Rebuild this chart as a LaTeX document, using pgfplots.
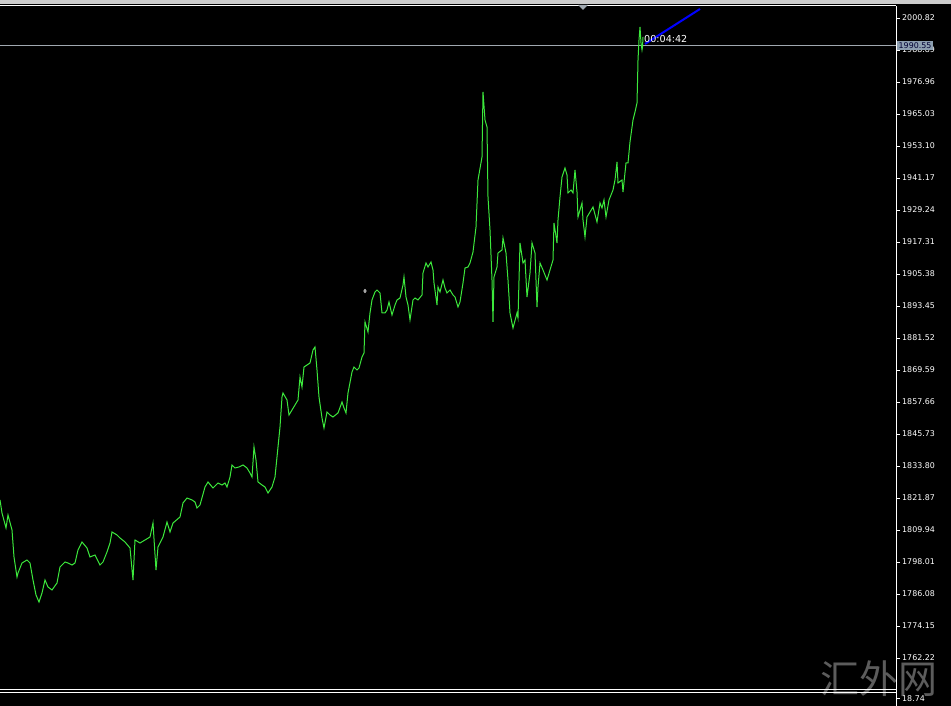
\documentclass[border=0pt]{standalone}
\usepackage{fontspec}
\setmainfont{DejaVu Sans}
\newfontfamily\cjk{Noto Sans CJK SC}
\usepackage{pgfplots}
\pgfplotsset{compat=1.18}
\usetikzlibrary{backgrounds}
\definecolor{mtgreen}{RGB}{60,232,60}
\definecolor{pricebox}{RGB}{140,158,176}
\definecolor{gridgray}{RGB}{160,168,176}
\definecolor{wmark}{RGB}{92,92,92}

% close prices, bar index vs price
\pgfplotstableread{
x y
0 1821.13
2 1816.28
6 1810.69
8 1815.53
12 1809.94
14 1799.88
17 1792.42
18 1793.91
22 1797.64
27 1798.76
30 1797.64
33 1791.30
36 1785.71
39 1783.10
42 1786.45
45 1791.30
48 1788.69
52 1787.57
57 1790.18
60 1796.15
65 1798.01
68 1797.64
72 1796.89
75 1797.64
78 1802.49
82 1805.47
87 1803.23
90 1799.88
95 1800.62
100 1796.89
103 1798.01
107 1801.74
110 1805.09
112 1809.20
117 1808.08
120 1806.96
125 1805.47
130 1803.23
133 1791.30
135 1806.21
140 1805.09
145 1806.21
150 1807.33
153 1812.55
156 1795.03
158 1803.60
163 1807.33
167 1812.92
170 1809.20
173 1812.55
180 1814.79
183 1820.01
187 1821.87
192 1821.13
195 1820.38
197 1818.14
200 1819.26
205 1825.97
208 1827.84
213 1825.60
218 1827.46
222 1826.72
225 1827.46
227 1825.97
230 1829.70
232 1834.17
235 1833.06
239 1833.43
243 1834.17
247 1833.06
250 1831.19
252 1829.70
254 1840.89
256 1836.04
258 1827.84
262 1826.72
265 1825.97
268 1823.74
272 1825.97
275 1829.70
277 1837.16
280 1848.34
282 1859.52
283 1861.02
287 1858.41
289 1852.81
292 1854.68
295 1856.54
298 1858.41
300 1866.98
302 1863.25
304 1870.71
307 1871.45
310 1872.20
313 1877.05
315 1878.17
317 1869.59
319 1859.52
322 1851.70
324 1847.97
327 1853.93
330 1852.81
333 1852.07
338 1853.56
342 1857.66
344 1855.42
346 1853.56
348 1861.02
352 1868.85
354 1870.71
357 1869.59
359 1870.34
362 1874.44
364 1875.93
365 1887.49
368 1883.76
370 1890.84
372 1895.69
375 1898.67
377 1899.42
380 1898.30
382 1890.84
385 1890.84
387 1891.96
389 1894.94
392 1890.10
395 1893.82
397 1895.69
400 1896.43
403 1901.28
404 1904.26
406 1896.81
408 1893.82
410 1888.23
413 1895.69
415 1896.43
418 1895.69
422 1897.55
423 1905.75
426 1909.48
428 1907.99
431 1909.85
433 1906.87
434 1902.03
437 1893.82
438 1900.53
440 1898.67
443 1903.14
445 1900.16
447 1898.30
450 1899.42
453 1897.55
455 1896.81
458 1893.08
460 1894.94
463 1902.03
465 1907.62
468 1907.99
470 1909.48
473 1913.58
476 1922.90
478 1940.42
482 1949.00
483 1973.23
485 1962.79
487 1960.18
488 1934.09
490 1921.78
492 1903.14
493 1887.49
494 1904.26
497 1907.99
498 1913.21
502 1914.33
503 1918.80
506 1913.21
508 1903.14
510 1890.84
513 1885.25
517 1890.84
518 1888.98
520 1916.94
523 1909.48
525 1910.60
527 1896.81
530 1905.75
532 1916.94
535 1913.21
537 1893.08
538 1900.53
540 1909.48
543 1906.87
547 1903.14
550 1906.87
553 1910.60
554 1924.39
557 1916.94
558 1925.51
560 1934.09
562 1941.54
565 1944.90
567 1942.29
568 1935.58
571 1936.70
573 1935.58
575 1944.15
577 1935.95
578 1926.63
582 1931.85
583 1925.51
585 1919.17
587 1926.63
590 1928.49
593 1930.36
597 1924.77
600 1931.85
602 1929.99
604 1932.97
606 1926.63
609 1932.97
613 1936.70
615 1940.42
617 1947.14
618 1939.31
622 1940.42
623 1935.95
626 1946.76
628 1946.76
630 1954.59
633 1962.79
635 1965.78
637 1969.13
637.5 1976.59
638 1985.16
639 1992.62
640 1997.46
641 1991.50
642 1988.89
642.5 1990.01
643 1993.74
}\prices

\begin{document}
\begin{tikzpicture}[x=1pt,y=1pt, show background rectangle, inner frame sep=0pt,
  background rectangle/.style={fill=black, draw=none}]
\begin{axis}[
  scale only axis, width=896pt, height=684pt,
  xmin=0, xmax=896, ymin=1750.29, ymax=2005.29,
  axis x line*=top, axis y line*=right,
  axis line style={white, line width=1pt, -},
  xtick=\empty,
  ytick={1762.22,1774.15,1786.08,1798.01,1809.94,1821.87,1833.80,1845.73,1857.66,1869.59,1881.52,1893.45,1905.38,1917.31,1929.24,1941.17,1953.10,1965.03,1976.96,1988.89,2000.82},
  yticklabels={1762.22,1774.15,1786.08,1798.01,1809.94,1821.87,1833.80,1845.73,1857.66,1869.59,1881.52,1893.45,1905.38,1917.31,1929.24,1941.17,1953.10,1965.03,1976.96,1988.89,2000.82},
  tick align=outside, major tick length=4pt,
  tick style={white, line width=0.8pt},
  yticklabel style={text=white, font=\fontsize{7.9}{9}\selectfont, inner sep=1pt, xshift=1pt},
]
\addplot[gridgray, line width=0.8pt] coordinates {(0,1990.55) (896,1990.55)};
\addplot[mtgreen, line width=1pt] table[x=x, y=y] {\prices};
\addplot[only marks, mark=diamond, mark size=1.6pt, white, mark options={line width=0.6pt}] coordinates {(365,1899.04)};
\addplot[blue, line width=2pt] coordinates {(645,1991.13) (700,2004.18)};
\node[anchor=west, text=white, font=\fontsize{9.6}{11}\selectfont, inner sep=0pt] at (axis cs:644,1992.9) {00:04:42};
\coordinate (bl) at (rel axis cs:0,0);
\end{axis}
\begin{scope}[shift={(bl)}, yshift=-16pt]
% from here on: page coordinates, origin at lower left of the image
\fill[white!80!black] (0,702) rectangle (951,706);
\node[text=wmark, font=\cjk\fontsize{39}{42}\selectfont, inner sep=0pt] at (879,27) {汇外网};
% price label box
\node[fill=pricebox, text=black!80!blue, font=\fontsize{7.9}{9}\selectfont, inner xsep=1.5pt, inner ysep=1.5pt, anchor=west] at (897,660.5) {1990.55};
% separator to the sub-window
\draw[white, line width=1pt] (0,16) -- (896,16);
\draw[white, line width=1pt] (0,13) -- (896,13);
\draw[white, line width=1pt] (896,60) -- (896,0);
\draw[white, line width=0.8pt] (896,8) -- (900,8);
\draw[white, line width=0.8pt] (896,48) -- (900,48);
\node[anchor=west, text=white, font=\fontsize{7.9}{9}\selectfont, inner sep=1pt] at (901,7) {18.74};
% current-time marker
\fill[gridgray] (578,701) -- (588,701) -- (583,696) -- cycle;
\coordinate (pbl) at (0,0);
\coordinate (ptr) at (951,706);
\end{scope}
\pgfresetboundingbox
\path[use as bounding box] (pbl) rectangle (ptr);
\end{tikzpicture}
\end{document}
